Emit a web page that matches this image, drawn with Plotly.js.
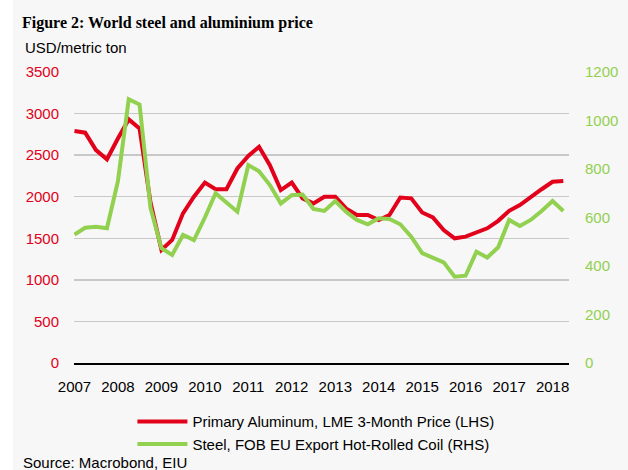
<!DOCTYPE html>
<html>
<head>
<meta charset="utf-8">
<script src="https://cdn.plot.ly/plotly-3.0.1.min.js"></script>
<style>
  html, body { margin: 0; padding: 0; background: #ffffff; }
  #wrap { width: 628px; height: 470px; background: #ffffff; position: relative; overflow: hidden; }
  #chart { position: absolute; left: 13px; top: 0; width: 615px; height: 470px; }
</style>
</head>
<body>
<div id="wrap"><div id="chart"></div></div>
<script>
// Quarterly dates, 2007 Q1 .. 2018 Q2
var quarters = [
  '2007-01-01','2007-04-01','2007-07-01','2007-10-01',
  '2008-01-01','2008-04-01','2008-07-01','2008-10-01',
  '2009-01-01','2009-04-01','2009-07-01','2009-10-01',
  '2010-01-01','2010-04-01','2010-07-01','2010-10-01',
  '2011-01-01','2011-04-01','2011-07-01','2011-10-01',
  '2012-01-01','2012-04-01','2012-07-01','2012-10-01',
  '2013-01-01','2013-04-01','2013-07-01','2013-10-01',
  '2014-01-01','2014-04-01','2014-07-01','2014-10-01',
  '2015-01-01','2015-04-01','2015-07-01','2015-10-01',
  '2016-01-01','2016-04-01','2016-07-01','2016-10-01',
  '2017-01-01','2017-04-01','2017-07-01','2017-10-01',
  '2018-01-01','2018-04-01'
];

// Primary Aluminum, LME 3-Month Price (USD/metric ton, LHS)
var aluminium = [
  2790, 2770, 2560, 2450,
  2700, 2930, 2820, 1930,
  1360, 1480, 1800, 2000,
  2170, 2090, 2090, 2340,
  2490, 2600, 2380, 2080,
  2170, 1980, 1920, 2000,
  2000, 1860, 1780, 1780,
  1720, 1780, 1990, 1980,
  1810, 1750, 1600, 1500,
  1520, 1570, 1620, 1710,
  1830, 1900, 2000, 2090,
  2180, 2190
];

// Steel, FOB EU Export Hot-Rolled Coil (USD/metric ton, RHS)
var steel = [
  530, 558, 562, 556,
  750, 1088, 1066, 640,
  473, 446, 528, 507,
  600, 700, 662, 624,
  816, 791, 734, 658,
  692, 695, 635, 627,
  668, 624, 590, 572,
  597, 594, 572, 521,
  453, 432, 415, 356,
  360, 459, 435, 477,
  590, 565, 590, 627,
  668, 627
];

var yearTicks = ['2007-01-01','2008-01-01','2009-01-01','2010-01-01','2011-01-01','2012-01-01',
                 '2013-01-01','2014-01-01','2015-01-01','2016-01-01','2017-01-01','2018-01-01'];
var yearLabels = ['2007','2008','2009','2010','2011','2012','2013','2014','2015','2016','2017','2018'];
var leftTicks = [0, 500, 1000, 1500, 2000, 2500, 3000, 3500];
var rightTicks = [0, 200, 400, 600, 800, 1000, 1200];

var RED = '#e2001a';
var GREEN = '#92d050';
var FONT = 'Liberation Sans, Arial, sans-serif';

var traces = [
  {
    x: quarters, y: steel, yaxis: 'y2', type: 'scatter', mode: 'lines',
    name: 'Steel, FOB EU Export Hot-Rolled Coil (RHS)',
    line: {color: GREEN, width: 4}, legendrank: 2, hoverinfo: 'skip'
  },
  {
    x: quarters, y: aluminium, type: 'scatter', mode: 'lines',
    name: 'Primary Aluminum, LME 3-Month Price (LHS)',
    line: {color: RED, width: 4}, legendrank: 1, hoverinfo: 'skip'
  }
];

var layout = {
  width: 615, height: 470,
  margin: {l: 61, r: 59, t: 72, b: 107, autoexpand: false},
  paper_bgcolor: '#f7f7f7', plot_bgcolor: '#f7f7f7',
  font: {family: FONT, size: 15, color: '#000000'},
  title: {
    text: 'Figure 2: World steel and aluminium price',
    xref: 'container', yref: 'container', x: 9/615, xanchor: 'left', y: 1 - 22/470, yanchor: 'middle',
    font: {family: 'Liberation Serif, Times New Roman, serif', size: 16, color: '#000000', weight: 'bold'}
  },
  showlegend: true,
  legend: {
    x: 0.118, xanchor: 'left', y: -0.145, yanchor: 'top',
    bgcolor: 'rgba(0,0,0,0)', font: {family: FONT, size: 15, color: '#000000'},
    itemwidth: 50, tracegroupgap: 0
  },
  xaxis: {
    type: 'date', range: ['2006-12-28', '2018-05-19'],
    tickvals: yearTicks, ticktext: yearLabels,
    showgrid: false, zeroline: false, showline: true, linecolor: '#000000', linewidth: 2,
    ticks: '', ticklabelstandoff: 9, automargin: false,
    tickfont: {family: FONT, size: 15, color: '#000000'}
  },
  yaxis: {
    range: [0, 3500], tickvals: leftTicks,
    showgrid: true, gridcolor: '#c8c8c8', gridwidth: 1.5, zeroline: false, showline: false,
    ticks: '', ticklabelstandoff: 14, automargin: false,
    tickfont: {family: FONT, size: 15, color: RED}
  },
  yaxis2: {
    range: [0, 1200], tickvals: rightTicks, overlaying: 'y', side: 'right',
    showgrid: false, zeroline: false, showline: false,
    ticks: '', ticklabelstandoff: 15, automargin: false,
    tickfont: {family: FONT, size: 15, color: GREEN}
  },
  annotations: [
    {text: 'USD/metric ton', xref: 'paper', yref: 'paper', x: (10 - 61)/495, y: (363 - 47)/291,
     xanchor: 'left', yanchor: 'middle', showarrow: false, font: {family: FONT, size: 15, color: '#000000'}},
    {text: 'Source: Macrobond, EIU', xref: 'paper', yref: 'paper', x: (8 - 61)/495, y: (363 - 462)/291,
     xanchor: 'left', yanchor: 'middle', showarrow: false, font: {family: FONT, size: 15, color: '#000000'}}
  ]
};

Plotly.newPlot('chart', traces, layout, {displayModeBar: false, staticPlot: true});
</script>
</body>
</html>
